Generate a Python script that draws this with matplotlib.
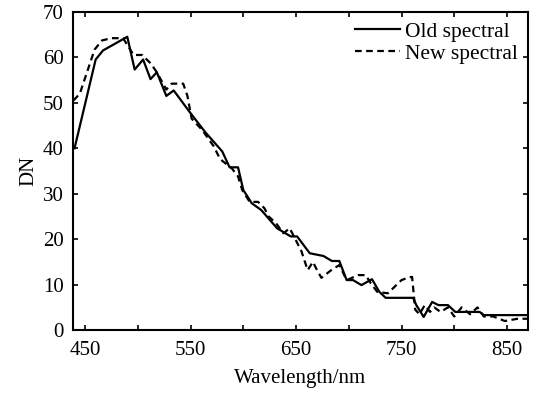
import numpy as np
import matplotlib
matplotlib.use("Agg")
import matplotlib.pyplot as plt

# old spectral (solid)
wl_old = [440, 460, 467, 490, 497, 505, 512, 518, 527, 534, 549, 564, 580, 587, 595,
          600, 608, 617, 632, 645, 651, 663, 676, 684, 691, 698, 704, 712, 722, 729,
          735, 761, 764, 771, 779, 785, 794, 801, 824, 828, 870]
dn_old = [40, 59.5, 61.5, 64.5, 57.3, 59.5, 55.2, 56.7, 51.5, 52.7, 48, 43.5, 39.3, 35.8, 35.8,
          30.8, 27.9, 26.4, 22.4, 20.6, 20.6, 16.9, 16.3, 15.2, 15.2, 11, 11, 9.9, 11.2, 8.4,
          7.1, 7.1, 5.5, 2.9, 6.2, 5.5, 5.5, 4, 4, 3.3, 3.3]

# new spectral (dashed)
wl_new = [439, 445, 459, 466, 475, 486, 496, 504, 512, 518, 527, 532, 543, 547, 551,
          561, 572, 578, 589, 595, 599, 606, 614, 620, 624, 631, 638, 644, 655, 661,
          666, 669, 674, 684, 691, 698, 709, 716, 720, 727, 737, 750, 757, 760, 763,
          767, 772, 777, 781, 787, 794, 800, 807, 815, 822, 828, 837, 848, 860, 870]
dn_new = [50.5, 52, 61.7, 63.7, 64.2, 64.2, 60.5, 60.5, 58.7, 56.7, 52.9, 54.2, 54.2, 51.5, 46.5,
          44, 40.4, 37.6, 35.6, 33.8, 30.8, 28.2, 28.2, 26.8, 25, 23.5, 21.3, 22.4, 17.4, 13.2,
          15, 13.6, 11.5, 13.3, 14.3, 11, 12.1, 12.1, 10.6, 8.4, 8.1, 11, 11.6, 11.7, 4.5,
          3.5, 5.5, 4, 5, 4, 5, 3, 5, 3.5, 5, 3, 3, 2, 2.5, 2.5]

xticks = [450, 500, 550, 600, 650, 700, 750, 800, 850]
xlabels = ['450', '', '550', '', '650', '', '750', '', '850']
yticks = [0, 10, 20, 30, 40, 50, 60, 70]

plt.rcParams['font.family'] = 'Liberation Serif'
plt.rcParams['font.size'] = 15

fig = plt.figure(figsize=(5.39, 3.93), dpi=100)
ax = fig.add_axes([0.135, 0.160, 0.844, 0.810])

ax.plot(wl_old, dn_old, color='black', lw=1.6, label='Old spectral')
ax.plot(wl_new, dn_new, color='black', lw=1.6, dashes=(3, 2), label='New spectral')

ax.set_xlim(438.3, 869.6)
ax.set_ylim(0, 70)
ax.set_xticks(xticks)
ax.set_xticklabels(xlabels)
ax.set_yticks(yticks)
ax.tick_params(direction='in', top=True, right=True, length=3.5, width=1.2, labelsize=15)
ax.tick_params(axis='x', pad=8)
ax.tick_params(axis='y', pad=6.5)
for s in ax.spines.values():
    s.set_linewidth(1.5)

ax.set_xlabel('Wavelength/nm', fontsize=15, labelpad=6)
ax.set_ylabel('DN', fontsize=15, labelpad=3)

ax.legend(loc='upper right', frameon=False, handlelength=2.1, fontsize=15.5,
          borderpad=0.15, borderaxespad=0.3, labelspacing=0.1, handletextpad=0.25)

fig.savefig('out.png', dpi=100)
